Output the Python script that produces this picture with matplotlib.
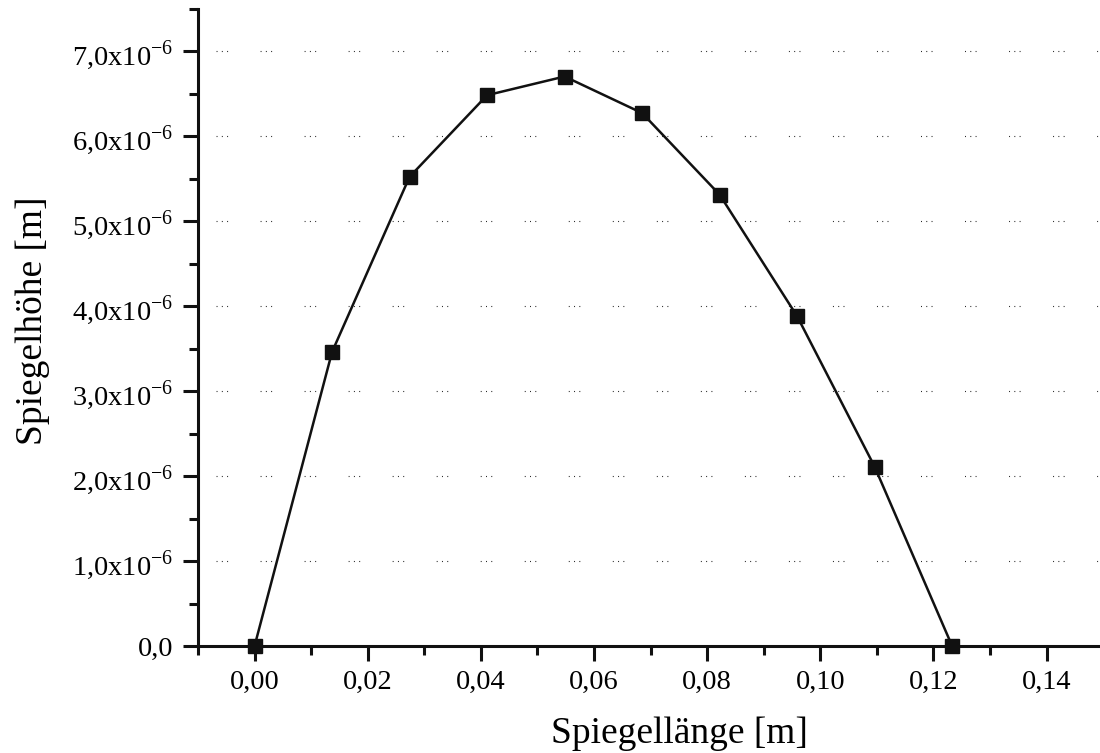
import matplotlib
matplotlib.use("Agg")
import matplotlib.pyplot as plt
from matplotlib.ticker import MultipleLocator, FuncFormatter

# Messdaten: Spiegellänge [m] und Spiegelhöhe [m]
laenge = [0.0, 0.0137, 0.0274, 0.0411, 0.0548, 0.0685, 0.0822, 0.0959, 0.1096, 0.1233]
hoehe = [0.0, 3.46e-6, 5.52e-6, 6.48e-6, 6.70e-6, 6.27e-6, 5.31e-6, 3.88e-6, 2.11e-6, 0.0]

x_label = "Spiegellänge [m]"
y_label = "Spiegelhöhe [m]"

plt.rcParams['font.family'] = ['Liberation Serif', 'DejaVu Serif']
plt.rcParams['mathtext.fontset'] = 'custom'
plt.rcParams['mathtext.rm'] = 'Liberation Serif'
plt.rcParams['lines.scale_dashes'] = False

fig = plt.figure(figsize=(11, 7.53), dpi=100)
ax = fig.add_axes([198 / 1100, 1 - 646 / 753, 908 / 1100, (646 - 8.5) / 753])

ax.plot(laenge, hoehe, color='#111111', lw=1.8, marker='s', markersize=10.5,
        markerfacecolor='#111111', markeredgecolor='#111111', clip_on=False, zorder=3)

ax.set_xlim(-0.01, 0.1505)
ax.set_ylim(0, 7.5e-6)

for s in ['top', 'right']:
    ax.spines[s].set_visible(False)
for s in ['left', 'bottom']:
    ax.spines[s].set_linewidth(2.2)
    ax.spines[s].set_color('#111111')

ax.xaxis.set_major_locator(MultipleLocator(0.02))
ax.xaxis.set_minor_locator(MultipleLocator(0.01))
ax.yaxis.set_major_locator(MultipleLocator(1e-6))
ax.yaxis.set_minor_locator(MultipleLocator(0.5e-6))

def fmt_x(v, pos):
    return f"{v:.2f}".replace('.', ',').replace('-0,00', '0,00')

def fmt_y(v, pos):
    m = v / 1e-6
    if abs(m) < 1e-9:
        return "0,0"
    return f"{m:.1f}".replace('.', ',') + r"x10$^{\mathregular{-6}}$"

ax.xaxis.set_major_formatter(FuncFormatter(fmt_x))
ax.yaxis.set_major_formatter(FuncFormatter(fmt_y))

ax.tick_params(which='major', length=10.5, width=2.2, color='#111111',
               labelsize=20.5)
ax.tick_params(which='minor', length=6.5, width=2.2, color='#111111')
ax.tick_params(axis='x', which='major', pad=7)
ax.tick_params(axis='y', which='major', pad=7)

# Origin-style Gitterlinien: Gruppen aus drei Punkten
ax.yaxis.grid(True, which='major', color='#222222', lw=0.8,
              linestyle=(18.7, (0.7, 3.1, 0.7, 3.1, 0.7, 23.4)))
ax.set_axisbelow(True)

ax.set_xlabel(x_label, fontsize=27)
ax.set_ylabel(y_label, fontsize=27)
ax.xaxis.set_label_coords(0.53, -0.11)
ax.yaxis.set_label_coords(-0.163, 0.51)

fig.savefig("out.png", dpi=100)
